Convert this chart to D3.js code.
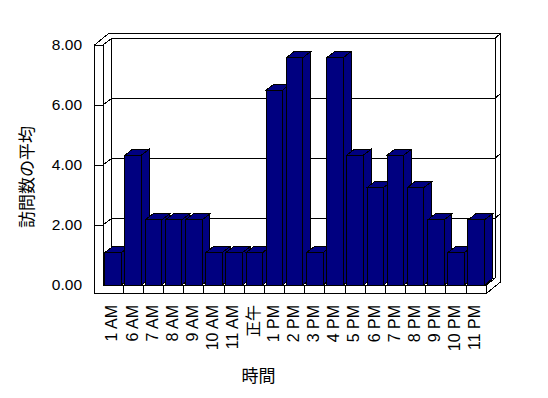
<!DOCTYPE html>
<html>
<head>
<meta charset="utf-8">
<script src="https://cdn.jsdelivr.net/npm/d3@7"></script>
<style>
  html, body { margin: 0; padding: 0; background: #fff; }
  svg { display: block; }
  text { font-family: "Liberation Sans", Arial, "Noto Sans CJK JP", sans-serif; fill: #000; }
</style>
</head>
<body>
<script>
// ---- data ----
const categories = ["1 AM","6 AM","7 AM","8 AM","9 AM","10 AM","11 AM","正午","1 PM","2 PM","3 PM","4 PM","5 PM","6 PM","7 PM","8 PM","9 PM","10 PM","11 PM"];
const values = [1.08, 4.33, 2.17, 2.17, 2.17, 1.08, 1.08, 1.08, 6.50, 7.58, 1.08, 7.58, 4.33, 3.25, 4.33, 3.25, 2.17, 1.08, 2.17];
const yTicks = [0, 2, 4, 6, 8];
const xTitle = "時間";
const yTitle = "訪問数の平均";

// ---- layout ----
const W = 548, H = 398;
const X0 = 103, X1 = 486.3;        // front plot span
const WALL_LEFT = 94.5;           // outer face of left wall
const FLOOR_BOTTOM = 293.5;       // bottom of floor slab
const D = {x: 8.7, y: -6.7};      // depth to inner back wall
const E = {x: 5.7, y: -5};        // back wall thickness
const B = {x: 7.8, y: -6.0};      // bar depth

const svg = d3.select("body").append("svg").attr("width", W).attr("height", H);

const y = d3.scaleLinear().domain([0, 8]).range([285, 45]);
const xc = d3.scaleBand().domain(categories).range([X0, X1]);
const x = d3.scaleBand().domain(categories).range([X0, X1]).paddingInner(0.18).paddingOuter(0.09);

const Y0 = y(0), YT = y(8);

const frame = svg.append("g").attr("shape-rendering", "crispEdges")
  .attr("stroke", "#000").attr("stroke-width", 1).attr("fill", "none");

// outer silhouette
frame.append("path").attr("fill", "#fff").attr("d", [
  "M", WALL_LEFT, YT,
  "L", WALL_LEFT + D.x + E.x, YT + D.y + E.y,
  "L", X1 + D.x + E.x, YT + D.y + E.y,
  "L", X1 + D.x + E.x, FLOOR_BOTTOM + D.y + E.y,
  "L", X1, FLOOR_BOTTOM,
  "L", WALL_LEFT, FLOOR_BOTTOM, "Z"].join(" "));

function line(x1, y1, x2, y2) {
  frame.append("line").attr("x1", x1).attr("y1", y1).attr("x2", x2).attr("y2", y2);
}
line(WALL_LEFT, YT, X0, YT);
line(X0, YT, X0, Y0);
line(X0, YT, X0 + D.x, YT + D.y);
line(X0 + D.x, YT + D.y, X1 + D.x, YT + D.y);
line(X0 + D.x, YT + D.y, X0 + D.x, Y0 + D.y);
line(X1 + D.x, YT + D.y, X1 + D.x, Y0 + D.y);
line(X1 + D.x, YT + D.y, X1 + D.x + E.x, YT + D.y + E.y);
line(X0, Y0, X1, Y0);
line(X1, Y0, X1 + D.x, Y0 + D.y);
line(X1, Y0, X1, FLOOR_BOTTOM);
line(X0 + D.x, Y0 + D.y, X1 + D.x, Y0 + D.y);

// gridlines
yTicks.filter(v => v > 0 && v < 8).forEach(v => {
  const yy = y(v);
  line(WALL_LEFT, yy, X0, yy);
  line(X0, yy, X0 + D.x, yy + D.y);
  line(X0 + D.x, yy + D.y, X1 + D.x, yy + D.y);
  line(X1 + D.x, yy + D.y, X1 + D.x + E.x, yy + D.y + E.y);
});

// category ticks on floor front
categories.slice(1).forEach(c => line(xc(c), Y0, xc(c), FLOOR_BOTTOM));

// bars
const bars = svg.append("g").attr("shape-rendering", "crispEdges")
  .attr("stroke", "#000").attr("stroke-width", 1).attr("fill", "#000080");
categories.forEach((c, i) => {
  const bx = x(c), bw = x.bandwidth(), top = y(values[i]);
  const gb = bars.append("g");
  gb.append("polygon").attr("points", [
    [bx + bw, top], [bx + bw + B.x, top + B.y], [bx + bw + B.x, Y0 + B.y], [bx + bw, Y0]
  ].map(p => p.join(",")).join(" "));
  gb.append("polygon").attr("points", [
    [bx, top], [bx + B.x, top + B.y], [bx + bw + B.x, top + B.y], [bx + bw, top]
  ].map(p => p.join(",")).join(" "));
  gb.append("rect").attr("x", bx).attr("y", top).attr("width", bw).attr("height", Y0 - top);
});

// y tick labels
svg.append("g").selectAll("text").data(yTicks).join("text")
  .attr("x", 82).attr("y", d => y(d) - 1).attr("dy", "0.36em")
  .attr("text-anchor", "end").attr("font-size", 15.5)
  .text(d => d3.format(".2f")(d));

// x tick labels
svg.append("g").selectAll("text").data(categories).join("text")
  .attr("transform", d => `translate(${xc(d) + xc.bandwidth() / 2 - 1.5},305) rotate(-90)`)
  .attr("dy", "0.36em").attr("text-anchor", "end").attr("font-size", 16)
  .text(d => d);

// axis titles
svg.append("text").attr("transform", "translate(27,177) rotate(-90)")
  .attr("text-anchor", "middle").attr("dy", "0.36em").attr("font-size", 17)
  .text(yTitle);
svg.append("text").attr("x", 258.5).attr("y", 375.5)
  .attr("text-anchor", "middle").attr("dy", "0.36em").attr("font-size", 17)
  .text(xTitle);
</script>
</body>
</html>
